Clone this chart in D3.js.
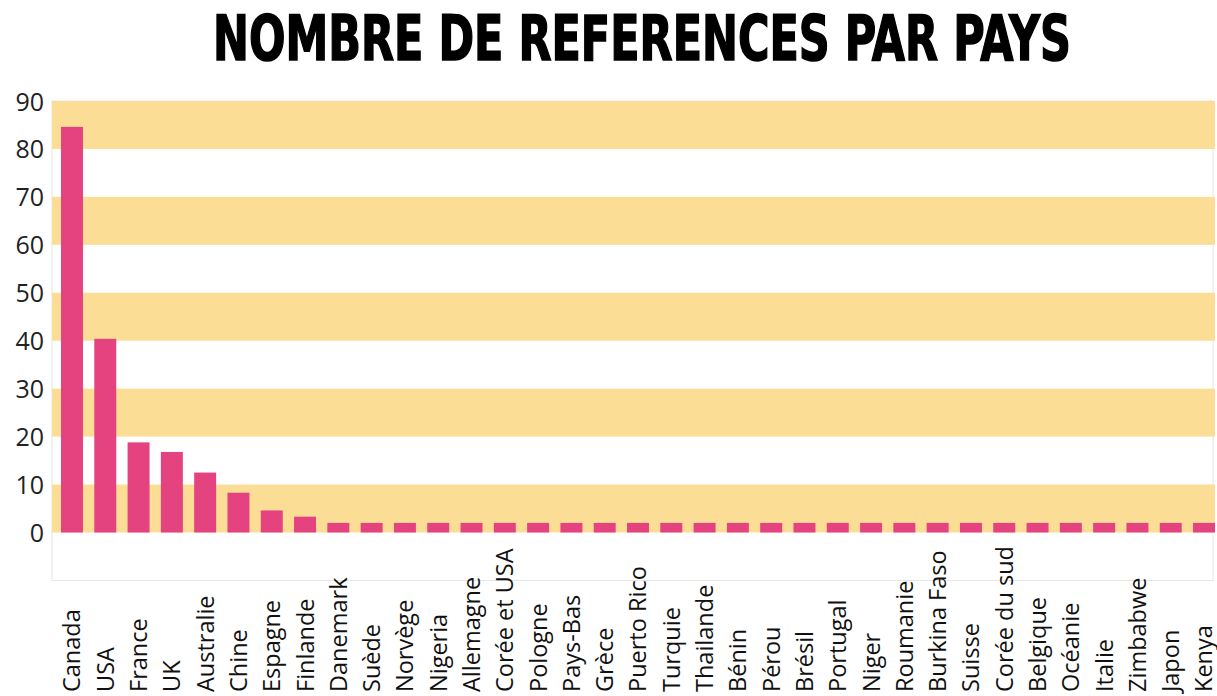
<!DOCTYPE html>
<html>
<head>
<meta charset="utf-8">
<script src="https://cdn.jsdelivr.net/npm/d3@7"></script>
<style>
  body { margin: 0; background: #fff; }
  svg { display: block; }
</style>
</head>
<body>
<div id="chart"></div>
<script>
var categories = ["Canada", "USA", "France", "UK", "Australie", "Chine", "Espagne", "Finlande",
    "Danemark", "Suède", "Norvège", "Nigeria", "Allemagne", "Corée et USA", "Pologne", "Pays-Bas",
    "Grèce", "Puerto Rico", "Turquie", "Thailande", "Bénin", "Pérou", "Brésil", "Portugal", "Niger",
    "Roumanie", "Burkina Faso", "Suisse", "Corée du sud", "Belgique", "Océanie", "Italie",
    "Zimbabwe", "Japon", "Kenya"];
var values = [84.6, 40.4, 18.8, 16.8, 12.5, 8.3, 4.6, 3.3, 2, 2, 2, 2, 2, 2, 2, 2, 2, 2, 2, 2, 2, 2, 2, 2,
    2, 2, 2, 2, 2, 2, 2, 2, 2, 2, 2];
var yTicks = [0, 10, 20, 30, 40, 50, 60, 70, 80, 90];
var title = "NOMBRE DE REFERENCES PAR PAYS";

function init() {
    var w = 1217;
    var h = 696;
    var left = 52, frameRight = 1213;

    var svg = d3.select("#chart")
        .append("svg")
        .attr("width", w)
        .attr("height", h);

    var xScale = d3.scaleBand()
        .domain(categories)
        .range([left, 1224])
        .paddingInner(0.34)
        .paddingOuter(0.27);

    var yScale = d3.scaleLinear()
        .domain([0, 90])
        .range([532.5, 101]);

    // plot frame
    svg.append("rect")
        .attr("x", left)
        .attr("y", yScale(90))
        .attr("width", frameRight - left)
        .attr("height", 580.5 - yScale(90))
        .attr("fill", "#fff")
        .attr("stroke", "#e6e6e6")
        .attr("stroke-width", 1);

    // alternating bands
    var bands = yTicks.filter(function (d) { return d < 90 && d % 20 === 0; });
    svg.selectAll(".band")
        .data(bands)
        .enter()
        .append("rect")
        .attr("class", "band")
        .attr("x", left)
        .attr("y", function (d) { return yScale(d + 10); })
        .attr("width", 1215 - left)
        .attr("height", function (d) { return yScale(d) - yScale(d + 10); })
        .attr("fill", "#fcdd95");

    svg.selectAll(".bar")
        .data(values)
        .enter()
        .append("rect")
        .attr("class", "bar")
        .attr("x", function (d, i) { return xScale(categories[i]); })
        .attr("y", function (d) { return yScale(d); })
        .attr("width", xScale.bandwidth())
        .attr("height", function (d) { return yScale(0) - yScale(d); })
        .attr("fill", "#e5437f");

    // y axis labels
    var yAxis = d3.axisLeft(yScale)
        .tickValues(yTicks)
        .tickSize(0)
        .tickPadding(0);
    var gy = svg.append("g")
        .attr("transform", "translate(44,0)")
        .call(yAxis);
    gy.select(".domain").remove();
    gy.selectAll("text")
        .attr("font-family", "'Open Sans', sans-serif")
        .attr("font-size", 25)
        .attr("fill", "#222")
        .attr("dy", "0.36em");

    // x labels rotated
    svg.selectAll(".xlabel")
        .data(categories)
        .enter()
        .append("text")
        .attr("class", "xlabel")
        .attr("transform", function (d) {
            return "translate(" + (xScale(d) + xScale.bandwidth() / 2) + ",692) rotate(-90)";
        })
        .attr("dy", "0.36em")
        .attr("text-anchor", "start")
        .attr("font-family", "'Open Sans', sans-serif")
        .attr("font-size", 23.5)
        .attr("fill", "#111")
        .text(function (d) { return d; });

    // title
    svg.append("text")
        .attr("x", 213)
        .attr("y", 60)
        .attr("textLength", 858)
        .attr("lengthAdjust", "spacingAndGlyphs")
        .attr("font-family", "'Liberation Sans Narrow', 'DejaVu Sans Condensed', sans-serif")
        .attr("font-weight", "bold")
        .attr("font-size", 63)
        .attr("fill", "#000")
        .attr("stroke", "#000")
        .attr("stroke-width", 1.5)
        .text(title);
}

window.onload = init;
</script>
</body>
</html>
